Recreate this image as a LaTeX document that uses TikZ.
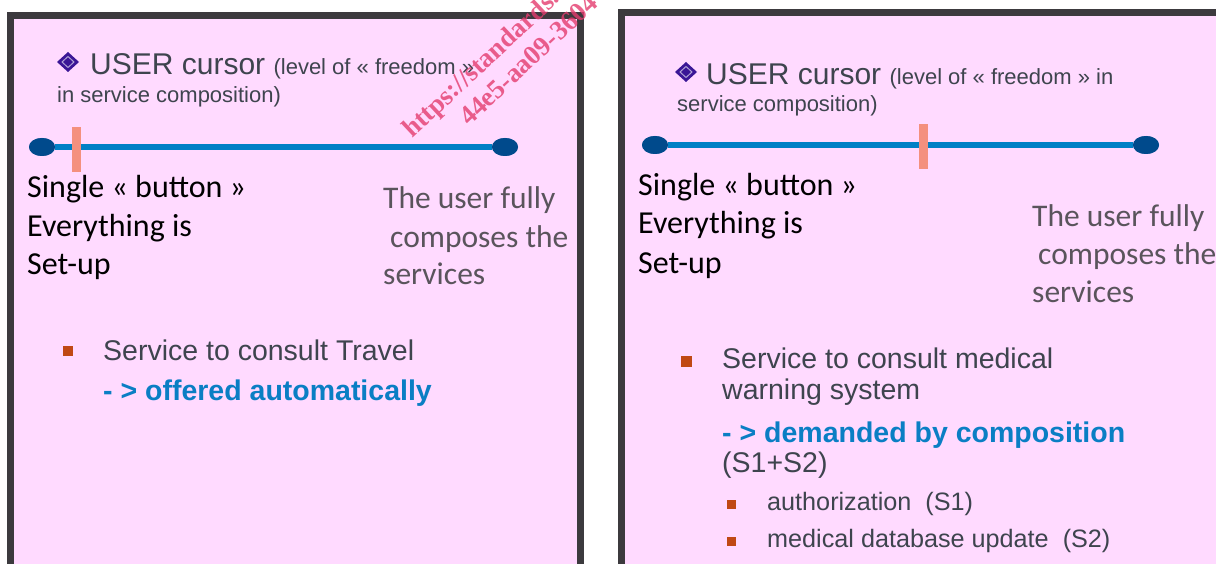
\documentclass[tikz,border=0pt]{standalone}
\usepackage{fontspec}
\usetikzlibrary{shapes.geometric}
\setmainfont{Liberation Sans}
\newfontfamily\arialf{Liberation Sans}
\newfontfamily\calf{Carlito}
\newfontfamily\wmf{Liberation Serif}
\definecolor{panelpink}{RGB}{255,218,255}
\definecolor{frame}{RGB}{60,58,62}
\definecolor{slate}{RGB}{62,68,78}
\definecolor{linkblue}{RGB}{10,126,196}
\definecolor{railblue}{RGB}{0,128,198}
\definecolor{knobblue}{RGB}{0,74,140}
\definecolor{salmon}{RGB}{244,144,126}
\definecolor{softgray}{RGB}{90,84,92}
\definecolor{bulletred}{RGB}{192,72,20}
\definecolor{violet}{RGB}{58,22,150}
\definecolor{stamp}{RGB}{228,60,110}
\begin{document}
\begin{tikzpicture}[x=1pt,y=-1pt,
  txt/.style={inner sep=0pt,anchor=base west},
  headbig/.style={txt,text=slate,font=\arialf\fontsize{30}{36}\selectfont},
  body/.style={txt,text=slate,font=\arialf\fontsize{28.5}{34}\selectfont},
  bodybold/.style={txt,text=linkblue,font=\arialf\bfseries\fontsize{28.5}{34}\selectfont},
  subbody/.style={txt,text=slate,font=\arialf\fontsize{25.2}{30}\selectfont},
  calblack/.style={txt,text=black,font=\calf\fontsize{32}{38}\selectfont},
  calgray/.style={txt,text=softgray,font=\calf\fontsize{31.5}{38}\selectfont},
  knob/.style={ellipse,fill=knobblue,minimum width=26pt,minimum height=18pt,inner sep=0pt},
  rail/.style={draw=railblue,line width=6.5pt},
  marker/.style={fill=salmon,minimum width=9pt,minimum height=45pt,inner sep=0pt},
  sqbullet/.style={fill=bulletred,minimum size=#1,inner sep=0pt},
  stamptext/.style={inner sep=0pt,anchor=base west,text=stamp,opacity=0.8,
    font=\wmf\bfseries\fontsize{27}{30}\selectfont,rotate=43}
]
\useasboundingbox (0,0) rectangle (1216,564);
\clip (0,0) rectangle (1216,564);

% panels
\fill[frame] (7,12) rectangle (584,580);
\fill[panelpink] (14,19) rectangle (577,580);
\fill[frame] (618,9) rectangle (1230,580);
\fill[panelpink] (625,16) rectangle (1230,580);

% ---------- left panel ----------
\fill[violet] (68,52) -- (79,62) -- (68,72) -- (57,62) -- cycle;
\draw[white!60!violet,line width=1pt] (68,56.5) -- (74,62) -- (68,67.5) -- (62,62) -- cycle;
\node[headbig] (lhead) at (90,75) {USER cursor \fontsize{22}{26}\selectfont(level of « freedom »};
\node[txt,text=slate,font=\arialf\fontsize{22}{26}\selectfont] (lhead2) at (57,103) {in service composition)};

\node[knob] (lk1) at (42,147) {};
\node[knob] (lk2) at (505,147) {};
\draw[rail] (lk1) -- (lk2);
\node[knob] at (lk1) {};
\node[knob] at (lk2) {};
\node[marker] (lmark) at (76.5,149.5) {};

\node[calblack] (ls1) at (27,198) {Single « button »};
\node[calblack] (ls2) at (27,237) {Everything is};
\node[calblack] (ls3) at (27,275) {Set-up};
\node[calgray] (lu1) at (383,209) {The user fully};
\node[calgray] (lu2) at (390,248) {composes the};
\node[calgray] (lu3) at (383,284) {services};

\node[sqbullet=10pt] (lb) at (68,351) {};
\node[body] (lt1) at (103,360) {Service to consult Travel};
\node[bodybold] (lt2) at (103,400) {- > offered automatically};

% ---------- right panel ----------
\fill[violet] (686,62) -- (697,72) -- (686,82) -- (675,72) -- cycle;
\draw[white!60!violet,line width=1pt] (686,66.5) -- (692,72) -- (686,77.5) -- (680,72) -- cycle;
\node[headbig] (rhead) at (706,85) {USER cursor \fontsize{22}{26}\selectfont(level of « freedom » in};
\node[txt,text=slate,font=\arialf\fontsize{22}{26}\selectfont] (rhead2) at (677,112) {service composition)};

\node[knob] (rk1) at (655,145) {};
\node[knob] (rk2) at (1146,145) {};
\draw[rail] (rk1) -- (rk2);
\node[knob] at (rk1) {};
\node[knob] at (rk2) {};
\node[marker] (rmark) at (923,147) {};

\node[calblack] (rs1) at (638,196) {Single « button »};
\node[calblack] (rs2) at (638,234) {Everything is};
\node[calblack] (rs3) at (638,273) {Set-up};
\node[calgray] (ru1) at (1032,227) {The user fully};
\node[calgray] (ru2) at (1038,265) {composes the};
\node[calgray] (ru3) at (1032,302) {services};

\node[sqbullet=11pt] (rb) at (686,361) {};
\node[body] (rt1) at (722,368) {Service to consult medical};
\node[body] (rt2) at (722,399) {warning system};
\node[bodybold] (rt3) at (722,442) {- > demanded by composition};
\node[body] (rt4) at (722,472) {(S1+S2)};
\node[sqbullet=9pt] (rsb1) at (731,504) {};
\node[subbody] (rt5) at (767,510) {authorization\ \ (S1)};
\node[sqbullet=9pt] (rsb2) at (731,541) {};
\node[subbody] (rt6) at (767,547) {medical database update\ \ (S2)};

% ---------- stamp ----------
\node[stamptext] (wm1) at (412,139) {https://standards.iteh.ai};
\node[stamptext] (wm2) at (469,127) {44e5-aa09-3604};
\end{tikzpicture}
\end{document}
